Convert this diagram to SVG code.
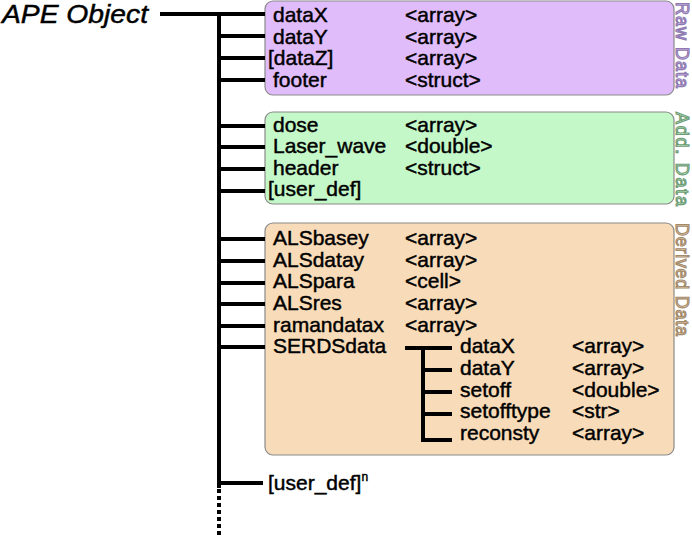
<svg xmlns="http://www.w3.org/2000/svg" width="692" height="537" viewBox="0 0 692 537">
<style>
.t{font-family:"Liberation Sans",Arial,sans-serif;font-size:21px;fill:#000;stroke:#000;stroke-width:0.45}
.side{font-family:"Liberation Sans",Arial,sans-serif;font-size:18px;stroke-width:1.1}
.ln{stroke:#000;stroke-width:4;fill:none}
.box{stroke:#8a8a8a;stroke-width:1.2}
</style>
<rect width="692" height="537" fill="#fff"/>
<g id="title"><text x="2" y="23" font-family="'Liberation Sans',Arial,sans-serif" font-size="25" font-style="italic" stroke="#000" stroke-width="0.45" textLength="146" lengthAdjust="spacingAndGlyphs">APE Object</text></g>
<g id="raw">
<rect class="box" x="265" y="1" width="409" height="94" rx="8" fill="#e0bcfb"/>
<text class="t" x="273" y="22">dataX</text><text class="t" x="405" y="22">&lt;array&gt;</text>
<text class="t" x="273" y="44">dataY</text><text class="t" x="405" y="44">&lt;array&gt;</text>
<text class="t" x="268" y="65">[dataZ]</text><text class="t" x="405" y="65">&lt;array&gt;</text>
<text class="t" x="273" y="87">footer</text><text class="t" x="405" y="87">&lt;struct&gt;</text>
<text class="side" transform="translate(676,2) rotate(90)" fill="#dcc2f6" stroke="#8e7ab0" textLength="86" lengthAdjust="spacing">Raw Data</text>
</g>
<g id="add">
<rect class="box" x="265" y="112" width="409" height="92" rx="8" fill="#c5f8c9"/>
<text class="t" x="273" y="132">dose</text><text class="t" x="405" y="132">&lt;array&gt;</text>
<text class="t" x="273" y="153">Laser_wave</text><text class="t" x="405" y="153">&lt;double&gt;</text>
<text class="t" x="273" y="175">header</text><text class="t" x="405" y="175">&lt;struct&gt;</text>
<text class="t" x="268" y="196">[user_def]</text>
<text class="side" transform="translate(676,112) rotate(90)" fill="#c9f5cc" stroke="#6f9c76" textLength="94" lengthAdjust="spacing">Add. Data</text>
</g>
<g id="derived">
<rect class="box" x="265" y="223" width="409" height="232" rx="8" fill="#f8dcb9"/>
<text class="t" x="273" y="245">ALSbasey</text><text class="t" x="405" y="245">&lt;array&gt;</text>
<text class="t" x="273" y="267">ALSdatay</text><text class="t" x="405" y="267">&lt;array&gt;</text>
<text class="t" x="273" y="288">ALSpara</text><text class="t" x="405" y="288">&lt;cell&gt;</text>
<text class="t" x="273" y="310">ALSres</text><text class="t" x="405" y="310">&lt;array&gt;</text>
<text class="t" x="273" y="332">ramandatax</text><text class="t" x="405" y="332">&lt;array&gt;</text>
<text class="t" x="273" y="353">SERDSdata</text>
<text class="side" transform="translate(676,223) rotate(90)" fill="#f5dcbd" stroke="#a38a6a" textLength="113" lengthAdjust="spacing">Derived Data</text>
</g>
<g id="serds">
<text class="t" x="460" y="353">dataX</text><text class="t" x="572" y="353">&lt;array&gt;</text>
<text class="t" x="460" y="375">dataY</text><text class="t" x="572" y="375">&lt;array&gt;</text>
<text class="t" x="460" y="397">setoff</text><text class="t" x="572" y="397">&lt;double&gt;</text>
<text class="t" x="460" y="418">setofftype</text><text class="t" x="572" y="418">&lt;str&gt;</text>
<text class="t" x="460" y="440">reconsty</text><text class="t" x="572" y="440">&lt;array&gt;</text>
</g>
<g id="userdef">
<text class="t" x="268" y="490">[user_def]<tspan font-size="12" dy="-9">n</tspan></text>
</g>
<g id="connectors">
<path class="ln" d="M160 14H265M219 14V488M219 36H265M219 58H265M219 80H265M219 126H265M219 147H265M219 169H265M219 191H265M219 239H265M219 261H265M219 283H265M219 304H265M219 326H265M219 347H265M219 483H263"/>
<path class="ln" d="M219 489V537" stroke-dasharray="4 3"/>
<path class="ln" d="M405 348H452M423 348V440M421 440H452M423 370H452M423 392H452M423 414H452"/>
</g>
</svg>
